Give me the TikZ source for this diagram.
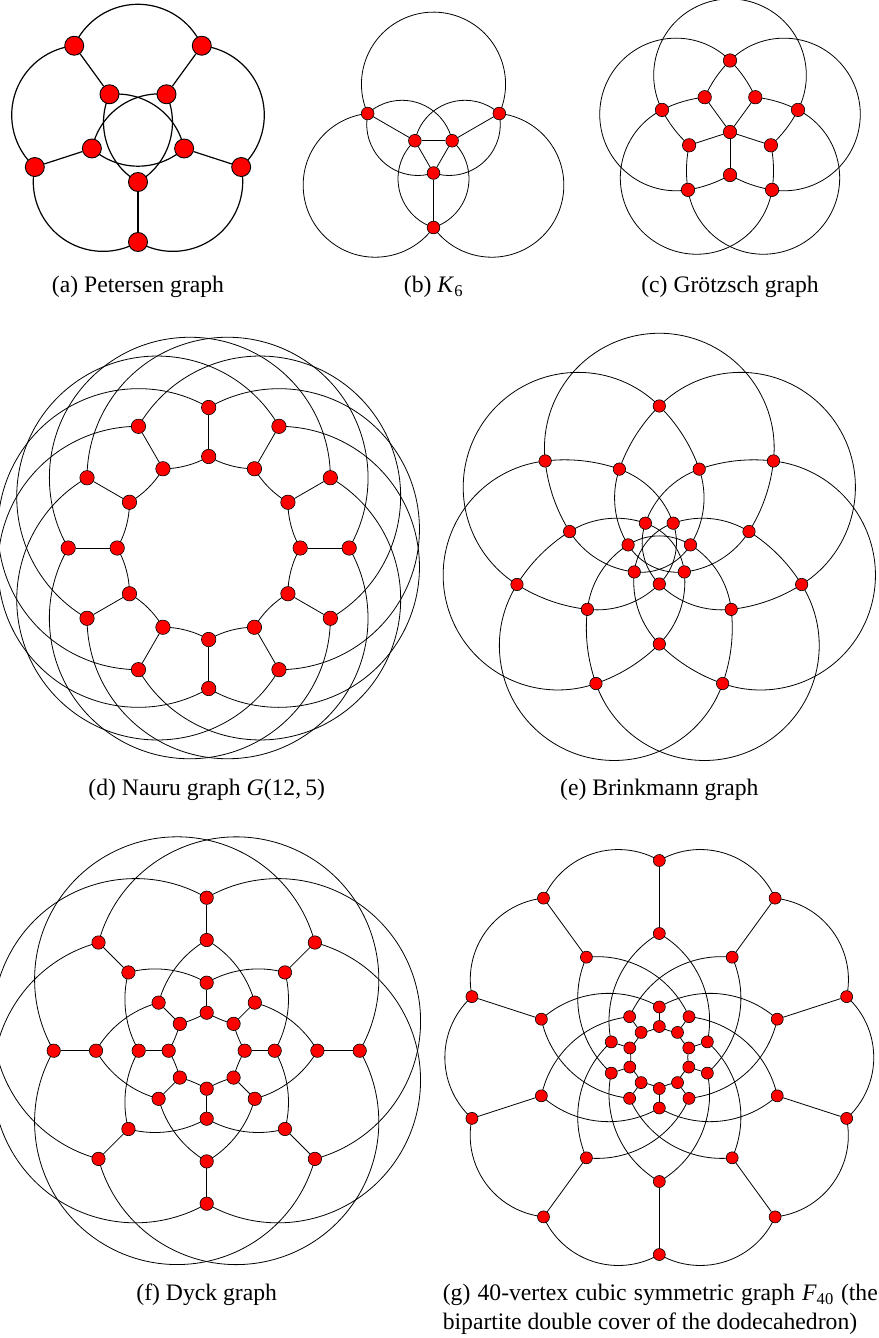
\documentclass[tikz,border=0pt]{standalone}
\usepackage{fontspec}
\setmainfont{Liberation Serif}
\usetikzlibrary{calc}
\pgfdeclarelayer{bg}
\pgfsetlayers{bg,main}
\tikzset{
  vtx/.style={circle, draw=black, fill=red, line width=0.6pt, inner sep=0pt, minimum size=#1},
  captext/.style={anchor=base, inner sep=0pt, font=\fontsize{23.65}{30}\selectfont},
}
% circular-arc edge from node #1 to node #2, leaving at #3 degrees from the chord
\newcommand\lomb[3]{%
  \path[draw] let \p1=(#1.center), \p2=(#2.center),
    \n1={atan2((\y2)-(\y1),(\x2)-(\x1))+(#3)},
    \n2={veclen((\x2)-(\x1),(\y2)-(\y1))/(2*sin(abs(#3)))} in
    (\p1) arc[start angle={\n1+90*sign(#3)}, delta angle={-2*(#3)}, radius=\n2];
}
\begin{document}
\begin{tikzpicture}[x=1pt,y=1pt]
\useasboundingbox (0,0) rectangle (878,-1338);

% ---------- (a) Petersen ----------
\begin{scope}[shift={(138,-133.5)}]
\foreach \k in {0,...,4}{
  \node[vtx=19pt, line width=0.9pt] (a-o\k) at ({-90+72*\k}:108.5) {};
  \node[vtx=19pt, line width=0.9pt] (a-i\k) at ({-90+72*\k}:48.5) {};
}
\end{scope}

% ---------- (b) K6 ----------
\begin{scope}[shift={(433.5,-151.5)}]
\foreach \k in {0,1,2}{
  \node[vtx=12.7pt] (b-o\k) at ({-90+120*\k}:76) {};
  \node[vtx=12.7pt] (b-i\k) at ({-90+120*\k}:21.5) {};
}
\end{scope}

% ---------- (c) Groetzsch ----------
\begin{scope}[shift={(730,-132)}]
\node[vtx=13.4pt] (c-w) at (0,0) {};
\foreach \k in {0,...,4}{
  \node[vtx=13.4pt] (c-u\k) at ({90+72*\k}:71.5) {};
  \node[vtx=13.4pt] (c-v\k) at ({126+72*\k}:43) {};
}
\end{scope}

% ---------- (d) Nauru ----------
\begin{scope}[shift={(208.7,-548)}]
\foreach \k in {0,...,11}{
  \node[vtx=14.4pt] (d-a\k) at ({30*\k}:91.5) {};
  \node[vtx=14.4pt] (d-b\k) at ({30*\k}:140.5) {};
}
\end{scope}

% ---------- (e) Brinkmann ----------
\begin{scope}[shift={(659.3,-552)}]
\foreach \k in {0,...,6}{
  \node[vtx=12.4pt] (e-A\k) at ({90+51.42857*\k}:146) {};
  \node[vtx=12.4pt] (e-B\k) at ({115.71429+51.42857*\k}:92) {};
  \node[vtx=12.4pt] (e-C\k) at ({115.71429+51.42857*\k}:32) {};
}
\end{scope}

% ---------- (f) Dyck ----------
\begin{scope}[shift={(206.7,-1050.7)}]
\foreach \k in {0,...,7}{
  \node[vtx=13.4pt] (f-p\k) at ({45*\k}:153) {};
  \node[vtx=13.4pt] (f-q\k) at ({45*\k}:110.7) {};
  \node[vtx=13.4pt] (f-s\k) at ({45*\k}:68) {};
  \node[vtx=13.4pt] (f-t\k) at ({45*\k}:38) {};
}
\end{scope}

% ---------- (g) F40 ----------
\begin{scope}[shift={(659.3,-1057.5)}]
\foreach \k in {0,...,9}{
  \node[vtx=12pt] (g-p\k) at ({90+36*\k}:197) {};
  \node[vtx=12pt] (g-q\k) at ({90+36*\k}:124) {};
  \node[vtx=12pt] (g-s\k) at ({90+36*\k}:50.5) {};
  \node[vtx=12pt] (g-t\k) at ({90+36*\k}:31) {};
}
\end{scope}

% ---------- captions ----------
\node[captext] (capa) at (138,-292.5) {(a) Petersen graph};
\node[captext] (capb) at (433.5,-292.5) {(b) \textit{K}\textsubscript{6}};
\node[captext] (capc) at (730,-292.5) {(c) Grötzsch graph};
\node[captext] (capd) at (206.7,-795.5) {(d) Nauru graph \textit{G}(12,\kern0.17em5)};
\node[captext] (cape) at (659.3,-795.5) {(e) Brinkmann graph};
\node[captext] (capf) at (206.7,-1300.5) {(f) Dyck graph};
\node[captext, anchor=base west] (capg1) at (442.6,-1300.5)
  {\makebox[435pt][s]{(g) 40-vertex cubic symmetric graph \textit{F}\textsubscript{40} (the}};
\node[captext, anchor=base west] (capg2) at (442.6,-1329)
  {bipartite double cover of the dodecahedron)};

% ---------- edges ----------
\begin{pgfonlayer}{bg}
\fill[white] (0,0) rectangle (878,-1338);
\begin{scope}[line width=1.2pt]
\foreach \k in {0,...,4}{
  \pgfmathtruncatemacro\ka{mod(\k+1,5)}
  \pgfmathtruncatemacro\kb{mod(\k+2,5)}
  \draw (a-o\k) -- (a-i\k);
  \lomb{a-o\k}{a-o\ka}{-66}
  \lomb{a-i\k}{a-i\kb}{-42}
}
\end{scope}
\begin{scope}[line width=0.8pt]
\foreach \k in {0,1,2}{
  \pgfmathtruncatemacro\ka{mod(\k+1,3)}
  \pgfmathtruncatemacro\kb{mod(\k+2,3)}
  \draw (b-o\k) -- (b-i\k);
  \draw (b-i\k) -- (b-i\ka);
  \lomb{b-i\k}{b-o\ka}{-60}
  \lomb{b-i\k}{b-o\kb}{60}
  \lomb{b-o\k}{b-o\ka}{-114}
}
\foreach \k in {0,...,4}{
  \pgfmathtruncatemacro\ka{mod(\k+1,5)}
  \pgfmathtruncatemacro\kb{mod(\k+2,5)}
  \draw (c-w) -- (c-v\k);
  \lomb{c-v\k}{c-u\ka}{-10.5}
  \lomb{c-v\k}{c-u\k}{10.5}
  \lomb{c-u\k}{c-u\kb}{-117}
}
\foreach \k in {0,...,11}{
  \pgfmathtruncatemacro\ka{mod(\k+1,12)}
  \pgfmathtruncatemacro\kb{mod(\k+5,12)}
  \draw (d-a\k) -- (d-b\k);
  \lomb{d-a\k}{d-a\ka}{15}
  \lomb{d-b\k}{d-b\kb}{-105}
}
\foreach \k in {0,...,6}{
  \pgfmathtruncatemacro\ka{mod(\k+1,7)}
  \pgfmathtruncatemacro\kb{mod(\k+2,7)}
  \pgfmathtruncatemacro\kc{mod(\k+3,7)}
  \pgfmathtruncatemacro\kd{mod(\k+6,7)}
  \lomb{e-A\k}{e-A\kb}{-96.43}
  \lomb{e-B\k}{e-A\ka}{-13.03}
  \lomb{e-B\k}{e-A\k}{13.03}
  \lomb{e-C\k}{e-B\ka}{-25.58}
  \lomb{e-C\k}{e-B\kd}{25.58}
  \lomb{e-C\k}{e-C\kc}{-32.14}
}
\foreach \k in {0,...,7}{
  \pgfmathtruncatemacro\ka{mod(\k+1,8)}
  \pgfmathtruncatemacro\kc{mod(\k+3,8)}
  \pgfmathtruncatemacro\kd{mod(\k+7,8)}
  \draw (f-p\k) -- (f-q\k);
  \draw (f-s\k) -- (f-t\k);
  \lomb{f-p\k}{f-p\kc}{-97.5}
  \lomb{f-q\k}{f-s\ka}{-22.5}
  \lomb{f-q\k}{f-s\kd}{22.5}
  \lomb{f-t\k}{f-t\ka}{7.5}
}
\foreach \k in {0,...,9}{
  \pgfmathtruncatemacro\ka{mod(\k+1,10)}
  \pgfmathtruncatemacro\kb{mod(\k+2,10)}
  \pgfmathtruncatemacro\kd{mod(\k+8,10)}
  \draw (g-p\k) -- (g-q\k);
  \draw (g-s\k) -- (g-t\k);
  \lomb{g-p\k}{g-p\ka}{-48}
  \lomb{g-q\k}{g-s\kb}{-36.1}
  \lomb{g-q\k}{g-s\kd}{36.1}
  \lomb{g-t\k}{g-t\ka}{12}
}
\end{scope}
\end{pgfonlayer}
\end{tikzpicture}
\end{document}
